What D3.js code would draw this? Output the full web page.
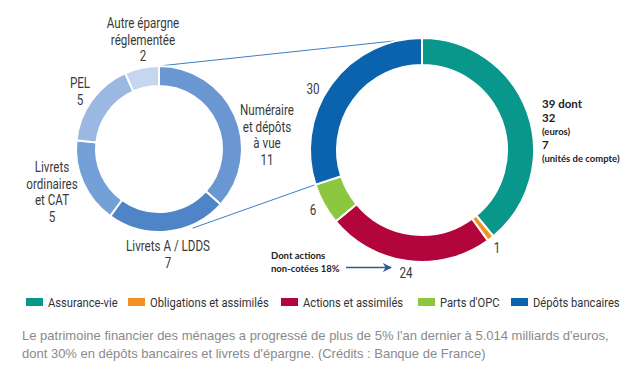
<!DOCTYPE html>
<html>
<head>
<meta charset="utf-8">
<script src="https://cdn.jsdelivr.net/npm/d3@7"></script>
<style>
  html, body { margin: 0; padding: 0; background: #fff; }
  svg { display: block; }
  .lbl { font-family: Roboto, 'Liberation Sans', sans-serif; font-size: 14px; fill: #3a3a3a; }
  .note { font-family: Lato, 'Open Sans', sans-serif; font-weight: bold; fill: #222; }
  .leg { font-family: Roboto, 'Liberation Sans', sans-serif; font-size: 13px; fill: #333; }
  .cap { font-family: 'Liberation Sans', Arial, sans-serif; font-size: 13px; fill: #8a8a8a; }
</style>
</head>
<body>
<svg id="chart" width="632" height="371"></svg>
<script>
// detail des depots bancaires (%)
const depotCats = ['Numéraire et dépôts à vue', 'Livrets A / LDDS', 'Livrets ordinaires et CAT', 'PEL', 'Autre épargne réglementée'];
const depotVals = [11, 7, 5, 5, 2];
const depotColors = ['#6a97d1', '#4f84c7', '#73a0d6', '#9ab8e2', '#c6d6ef'];

// patrimoine financier (%)
const patriCats = ['Assurance-vie', 'Obligations et assimilés', 'Actions et assimilés', "Parts d'OPC", 'Dépôts bancaires'];
const patriVals = [39, 1, 24, 6, 30];
const patriColors = ['#08978a', '#f29223', '#b2053b', '#8dc63f', '#0b62ad'];

const caption = [
  "Le patrimoine financier des ménages a progressé de plus de 5% l'an dernier à 5.014 milliards d'euros,",
  "dont 30% en dépôts bancaires et livrets d'épargne. (Crédits : Banque de France)"
];

const svg = d3.select('#chart');

const left = { cx: 159, cy: 149, ro: 83, ri: 63 };
const right = { cx: 422, cy: 150, ro: 112, ri: 85 };

const pie = d3.pie().sort(null).value(d => d);

function pointAt(c, angle, r) {
  return [c.cx + r * Math.sin(angle), c.cy - r * Math.cos(angle)];
}

const leftArcs = pie(depotVals);
const rightArcs = pie(patriVals);

// lignes de liaison
const links = [
  [pointAt(left, 0, left.ro), pointAt(right, 0, right.ro)],
  [pointAt(left, 157 * Math.PI / 180, left.ro + 3), pointAt(right, rightArcs[4].startAngle, right.ro)]
];
svg.append('g')
  .selectAll('line')
  .data(links)
  .join('line')
  .attr('x1', d => d[0][0]).attr('y1', d => d[0][1])
  .attr('x2', d => d[1][0]).attr('y2', d => d[1][1])
  .attr('stroke', '#3f7fc4')
  .attr('stroke-width', 1);

function donut(c, arcs, colors) {
  const arc = d3.arc().innerRadius(c.ri).outerRadius(c.ro);
  svg.append('g')
    .attr('transform', `translate(${c.cx},${c.cy})`)
    .selectAll('path')
    .data(arcs)
    .join('path')
    .attr('d', arc)
    .attr('fill', (d, i) => colors[i])
    .attr('stroke', '#fff')
    .attr('stroke-width', 2);
}
donut(left, leftArcs, depotColors);
donut(right, rightArcs, patriColors);

// etiquettes (police etroite simulee)
const leftLabels = [
  { lines: ['Numéraire', 'et dépôts', 'à vue', depotVals[0]], x: 267, y: 115 },
  { lines: ['Livrets A / LDDS', depotVals[1]], x: 168, y: 251 },
  { lines: ['Livrets', 'ordinaires', 'et CAT', depotVals[2]], x: 52, y: 172 },
  { lines: ['PEL', depotVals[3]], x: 80, y: 88 },
  { lines: ['Autre épargne', 'réglementée', depotVals[4]], x: 143, y: 28 }
];
const rightLabels = [
  { lines: [patriVals[1]], x: 497, y: 253 },
  { lines: [patriVals[2]], x: 406, y: 278 },
  { lines: [patriVals[3]], x: 313, y: 215 },
  { lines: [patriVals[4]], x: 313, y: 94 }
];

svg.append('g')
  .selectAll('text')
  .data(leftLabels.concat(rightLabels))
  .join('text')
  .attr('class', 'lbl')
  .attr('text-anchor', 'middle')
  .attr('transform', d => `translate(${d.x},${d.y}) scale(0.83,1)`)
  .each(function(d) {
    d3.select(this).selectAll('tspan')
      .data(d.lines)
      .join('tspan')
      .attr('x', 0)
      .attr('dy', (t, i) => i === 0 ? 0 : 16.7)
      .text(t => t);
  });

// detail assurance-vie
const avLines = [
  { t: patriVals[0] + ' dont', s: 11.5 },
  { t: '32', s: 11.5 },
  { t: '(euros)', s: 9.5 },
  { t: '7', s: 11.5 },
  { t: '(unités de compte)', s: 9.5 }
];
svg.append('g')
  .selectAll('text')
  .data(avLines)
  .join('text')
  .attr('class', 'note')
  .attr('x', 542)
  .attr('y', (d, i) => 108 + i * 13.5)
  .attr('font-size', d => d.s)
  .text(d => d.t);

svg.append('g')
  .selectAll('text')
  .data(['Dont actions', 'non-cotées 18%'])
  .join('text')
  .attr('class', 'note')
  .attr('x', 271)
  .attr('y', (d, i) => 259 + i * 12.5)
  .attr('font-size', 9.5)
  .text(d => d);

svg.append('defs').append('marker')
  .attr('id', 'head')
  .attr('viewBox', '0 0 10 10')
  .attr('refX', 9).attr('refY', 5)
  .attr('markerWidth', 9).attr('markerHeight', 9)
  .attr('markerUnits', 'userSpaceOnUse')
  .attr('orient', 'auto')
  .append('path')
  .attr('d', 'M0,0 L10,5 L0,10 L3,5 Z')
  .attr('fill', '#2d5a98');

svg.append('line')
  .attr('x1', 346).attr('y1', 267.5)
  .attr('x2', 391).attr('y2', 267.5)
  .attr('stroke', '#2d5a98')
  .attr('stroke-width', 1.3)
  .attr('marker-end', 'url(#head)');

// legende
const legendX = [26, 128, 281, 418, 511];
const leg = svg.append('g')
  .selectAll('g')
  .data(patriCats)
  .join('g')
  .attr('transform', (d, i) => `translate(${legendX[i]},298)`);
leg.append('rect')
  .attr('width', 17).attr('height', 8)
  .attr('fill', (d, i) => patriColors[i]);
leg.append('text')
  .attr('class', 'leg')
  .attr('transform', 'translate(22,8.5) scale(0.86,1)')
  .text(d => d);

// legende de la photo
svg.append('g')
  .selectAll('text')
  .data(caption)
  .join('text')
  .attr('class', 'cap')
  .attr('x', 22)
  .attr('y', (d, i) => 339.5 + i * 18)
  .text(d => d);
</script>
</body>
</html>
